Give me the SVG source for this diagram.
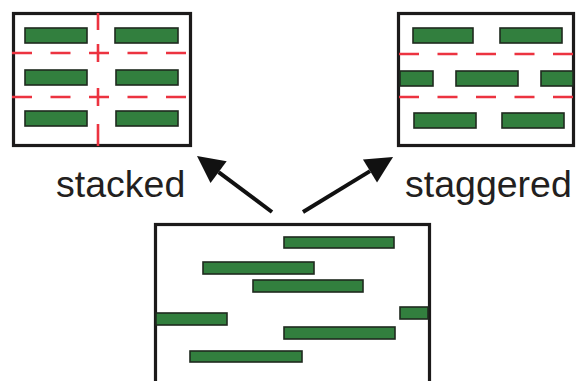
<svg xmlns="http://www.w3.org/2000/svg" width="576" height="381" viewBox="0 0 576 381">
  <style>
    .frame { fill: #ffffff; stroke: #1c1a1a; stroke-width: 3.2; }
    .bar { fill: #327f3e; stroke: #1f2a1f; stroke-width: 1.6; }
    .cut { fill: none; stroke: #ec3340; stroke-width: 2.6; }
    .dash { stroke-dasharray: 20 18.5; }
    .arrow { fill: none; stroke: #111111; stroke-width: 4; marker-end: url(#head); }
    .label { font-family: "Liberation Sans", Arial, sans-serif; font-size: 37.5px; fill: #231f20; }
  </style>
  <defs>
    <marker id="head" markerUnits="userSpaceOnUse" markerWidth="28" markerHeight="28" refX="0" refY="13.5" orient="auto" overflow="visible">
      <path d="M0,0 L27,13.5 L0,27 Z" fill="#111111"/>
    </marker>
  </defs>

  <rect x="0" y="0" width="576" height="381" fill="#ffffff"/>

  <!-- stacked layout -->
  <g id="stacked-box">
    <rect class="frame" x="13.5" y="13.5" width="177" height="132"/>
    <rect class="bar" x="25" y="28" width="62" height="15"/>
    <rect class="bar" x="115" y="28" width="63" height="15"/>
    <rect class="bar" x="25" y="70" width="62" height="15"/>
    <rect class="bar" x="116" y="70" width="62" height="15"/>
    <rect class="bar" x="25" y="111" width="62" height="15"/>
    <rect class="bar" x="116" y="111" width="62" height="15"/>
    <path class="cut dash" d="M12,53 H191 M12,97 H191"/>
    <path class="cut" d="M98,13 V30 M98,44 V62 M98,88 V106 M98,124 V146"/>
  </g>

  <!-- staggered layout -->
  <g id="staggered-box">
    <rect class="frame" x="398.5" y="13.5" width="175" height="132"/>
    <rect class="bar" x="413" y="28" width="60" height="15"/>
    <rect class="bar" x="500" y="28" width="62" height="15"/>
    <rect class="bar" x="400" y="71" width="33" height="15"/>
    <rect class="bar" x="456" y="71" width="62" height="15"/>
    <rect class="bar" x="541" y="71" width="32" height="15"/>
    <rect class="bar" x="414" y="113" width="62" height="15"/>
    <rect class="bar" x="502" y="113" width="62" height="15"/>
    <path class="cut dash" d="M399,54 H574 M399,97 H574"/>
  </g>

  <!-- unordered layout -->
  <g id="random-box">
    <rect class="frame" x="155.5" y="224.5" width="274" height="160"/>
    <rect class="bar" x="284" y="237" width="110" height="11"/>
    <rect class="bar" x="203" y="262" width="111" height="12"/>
    <rect class="bar" x="253" y="280" width="110" height="12"/>
    <rect class="bar" x="156" y="313" width="71" height="12"/>
    <rect class="bar" x="400" y="307" width="28" height="12"/>
    <rect class="bar" x="284" y="327" width="111" height="12"/>
    <rect class="bar" x="190" y="351" width="112" height="11"/>
  </g>

  <g id="label-stacked">
    <text class="label" x="56" y="197">stacked</text>
  </g>
  <g id="label-staggered">
    <text class="label" x="405" y="197">staggered</text>
  </g>

  <g id="connectors">
    <line class="arrow" x1="272" y1="212" x2="218.6" y2="172.1"/>
    <line class="arrow" x1="303" y1="212" x2="370" y2="171.1"/>
  </g>
</svg>
